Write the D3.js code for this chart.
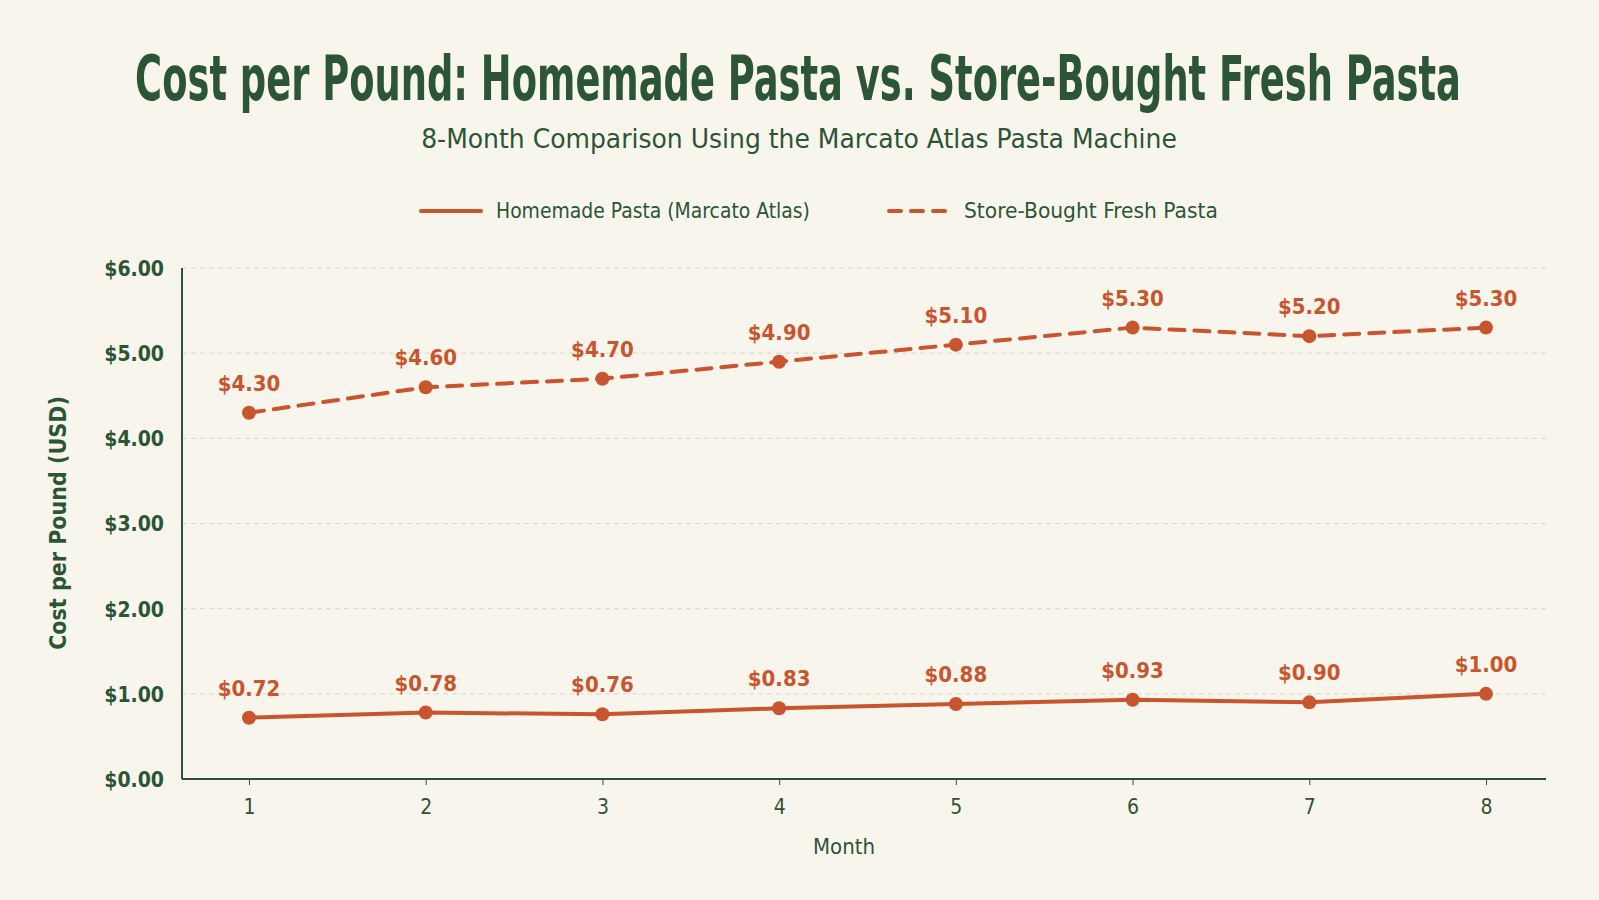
<!DOCTYPE html>
<html>
<head>
<meta charset="utf-8">
<script src="https://cdn.jsdelivr.net/npm/d3@7"></script>
<style>
  body { margin: 0; background: #f8f5ed; }
  svg { display: block; }
  text { font-family: "Liberation Sans Narrow", "DejaVu Sans Condensed", "Roboto", sans-serif; }
</style>
</head>
<body>
<div id="chart"></div>
<script>
// data
var months = [1, 2, 3, 4, 5, 6, 7, 8];
var homemade = [0.72, 0.78, 0.76, 0.83, 0.88, 0.93, 0.90, 1.00];
var storeBought = [4.30, 4.60, 4.70, 4.90, 5.10, 5.30, 5.20, 5.30];
var yTicks = [0, 1, 2, 3, 4, 5, 6];
var seriesNames = ["Homemade Pasta (Marcato Atlas)", "Store-Bought Fresh Pasta"];

var svgWidth = 1599;
var svgHeight = 900;
var green = "#2c5535";
var orange = "#c9552f";

var margin = { top: 268, right: 53, bottom: 121, left: 182 };
var width = svgWidth - margin.left - margin.right;
var height = svgHeight - margin.top - margin.bottom;

var svg = d3.select("#chart")
    .append("svg")
    .attr("width", svgWidth)
    .attr("height", svgHeight);

svg.append("rect")
    .attr("width", svgWidth)
    .attr("height", svgHeight)
    .attr("fill", "#f8f5ed");

// squeeze a text horizontally so it spans `w` pixels (the reference uses a condensed face)
function squeeze(t, x, y, w, anchor) {
    t.attr("x", 0).attr("y", 0).attr("text-anchor", anchor);
    var natural = t.node().getComputedTextLength();
    var sx = Math.min(1.2, w / natural);
    t.attr("transform", `translate(${x}, ${y}) scale(${sx}, 1)`);
}

// titles
var title = svg.append("text")
    .attr("font-size", 62)
    .attr("font-weight", "bold")
    .attr("fill", green)
    .text("Cost per Pound: Homemade Pasta vs. Store-Bought Fresh Pasta");
squeeze(title, 798, 100, 1326, "middle");

var subtitle = svg.append("text")
    .attr("font-size", 26)
    .attr("fill", green)
    .text("8-Month Comparison Using the Marcato Atlas Pasta Machine");
squeeze(subtitle, 799, 148, 756, "middle");

var chartGroup = svg.append("g")
    .attr("transform", `translate(${margin.left}, ${margin.top})`);

// scales
var xScale = d3.scaleLinear()
    .domain([1, 8])
    .range([67, 1304]);

var yScale = d3.scaleLinear()
    .domain([0, 6])
    .range([511, 0]);

// grid lines
chartGroup.append("g")
    .selectAll("line")
    .data(yTicks)
    .enter()
    .append("line")
    .attr("x1", 0)
    .attr("x2", width)
    .attr("y1", d => yScale(d))
    .attr("y2", d => yScale(d))
    .attr("stroke", "#d9d6cc")
    .attr("stroke-width", 1)
    .attr("stroke-dasharray", "5,4");

// axes
var yAxis = d3.axisLeft(yScale)
    .tickValues(yTicks)
    .tickSize(6)
    .tickFormat(d => "$" + d.toFixed(2));

var xAxis = d3.axisBottom(xScale)
    .tickValues(months)
    .tickSize(6)
    .tickFormat(d3.format("d"));

var yAxisG = chartGroup.append("g").call(yAxis);
yAxisG.select(".domain").attr("d", `M0,0V${height}`);
yAxisG.selectAll(".tick line").remove();
yAxisG.selectAll(".tick text")
    .attr("x", -18)
    .attr("dy", "0.35em")
    .attr("font-size", 21)
    .attr("font-weight", "bold")
    .attr("fill", green);

var xAxisG = chartGroup.append("g")
    .attr("transform", `translate(0, ${height})`)
    .call(xAxis);
xAxisG.select(".domain").attr("d", `M0,0H${width}`);
xAxisG.selectAll(".tick line").attr("stroke", green);
xAxisG.selectAll(".tick text")
    .attr("y", 20)
    .attr("font-size", 21)
    .attr("fill", green);

chartGroup.selectAll(".domain")
    .attr("stroke", green)
    .attr("stroke-width", 2);

// axis titles
svg.append("text")
    .attr("transform", "translate(66, 523) rotate(-90)")
    .attr("text-anchor", "middle")
    .attr("font-size", 23)
    .attr("font-weight", "bold")
    .attr("fill", green)
    .text("Cost per Pound (USD)");

svg.append("text")
    .attr("x", 844)
    .attr("y", 854)
    .attr("text-anchor", "middle")
    .attr("font-size", 22)
    .attr("fill", green)
    .text("Month");

// lines
var line = d3.line()
    .x((d, i) => xScale(months[i]))
    .y(d => yScale(d));

var series = [
    { name: seriesNames[0], values: homemade, dash: null },
    { name: seriesNames[1], values: storeBought, dash: "15,10" }
];

series.forEach(function (s) {
    chartGroup.append("path")
        .datum(s.values)
        .attr("d", line)
        .attr("fill", "none")
        .attr("stroke", orange)
        .attr("stroke-width", 4)
        .attr("stroke-linecap", "round")
        .attr("stroke-dasharray", s.dash);

    chartGroup.append("g")
        .selectAll("circle")
        .data(s.values)
        .enter()
        .append("circle")
        .attr("cx", (d, i) => xScale(months[i]))
        .attr("cy", d => yScale(d))
        .attr("r", 7)
        .attr("fill", orange);

    chartGroup.append("g")
        .selectAll("text")
        .data(s.values)
        .enter()
        .append("text")
        .attr("x", (d, i) => xScale(months[i]))
        .attr("y", d => yScale(d) - 22)
        .attr("text-anchor", "middle")
        .attr("font-size", 22)
        .attr("font-weight", "bold")
        .attr("fill", orange)
        .text(d => "$" + d.toFixed(2));
});

// legend
var legend = svg.append("g");
var legendX = [421, 889];
var legendW = [314, 254];
series.forEach(function (s, i) {
    legend.append("line")
        .attr("x1", legendX[i])
        .attr("x2", legendX[i] + 60)
        .attr("y1", 211)
        .attr("y2", 211)
        .attr("stroke", orange)
        .attr("stroke-width", 4)
        .attr("stroke-linecap", "round")
        .attr("stroke-dasharray", s.dash ? "12,10" : null);
    var t = legend.append("text")
        .attr("font-size", 21)
        .attr("fill", green)
        .text(s.name);
    squeeze(t, legendX[i] + 75, 218, legendW[i], "start");
});
</script>
</body>
</html>
